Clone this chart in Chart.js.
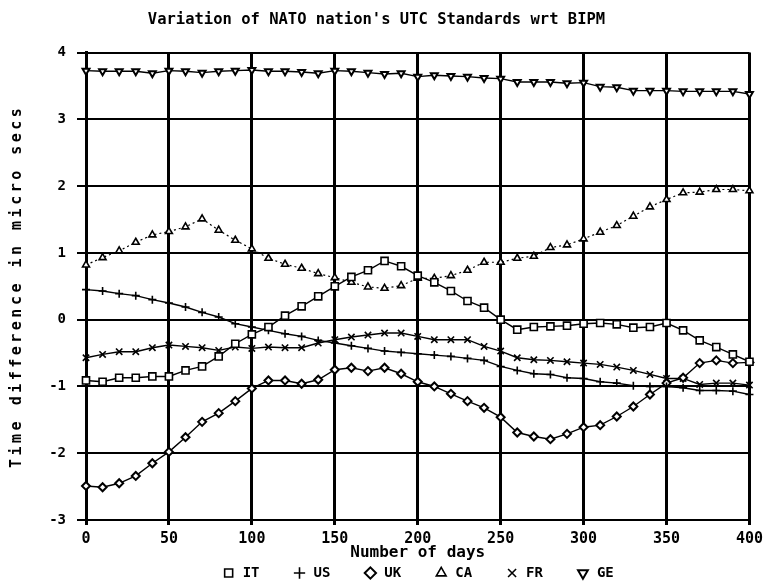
<!DOCTYPE html>
<html>
<head>
<meta charset="utf-8">
<title>Variation of NATO nation's UTC Standards wrt BIPM</title>
<script src="https://cdn.jsdelivr.net/npm/chart.js@4.4.0/dist/chart.umd.min.js"></script>
<style>
  html, body { margin: 0; padding: 0; background: #fff; overflow: hidden; }
  #chart { display: block; }
</style>
</head>
<body>
<canvas id="chart" width="768" height="582"></canvas>
<script>
// Days (x values of every point)
const days = [0, 10, 20, 30, 40, 50, 60, 70, 80, 90, 100, 110, 120, 130, 140, 150, 160, 170, 180, 190, 200,
  210, 220, 230, 240, 250, 260, 270, 280, 290, 300, 310, 320, 330, 340, 350, 360, 370, 380, 390, 400];

// Tick labels
const xTicks = [0, 50, 100, 150, 200, 250, 300, 350, 400];
const yTicks = [-3, -2, -1, 0, 1, 2, 3, 4];

// Series names (legend)
const seriesNames = ['IT', 'US', 'UK', 'CA', 'FR', 'GE'];

// Time difference in micro secs, one value per day above
const itValues = [-0.91, -0.93, -0.87, -0.87, -0.85, -0.85, -0.76, -0.70, -0.55, -0.36, -0.22, -0.11, 0.06, 0.20, 0.35,
  0.50, 0.64, 0.74, 0.88, 0.80, 0.66, 0.56, 0.43, 0.28, 0.18, 0.00, -0.15, -0.11, -0.10, -0.09, -0.06,
  -0.05, -0.07, -0.12, -0.11, -0.05, -0.16, -0.31, -0.41, -0.52, -0.63];
const usValues = [0.45, 0.43, 0.39, 0.36, 0.30, 0.25, 0.19, 0.11, 0.04, -0.06, -0.11, -0.16, -0.21, -0.25, -0.31,
  -0.35, -0.39, -0.43, -0.47, -0.49, -0.51, -0.53, -0.55, -0.58, -0.61, -0.70, -0.76, -0.81, -0.82, -0.87, -0.88,
  -0.93, -0.95, -0.99, -1.00, -1.00, -1.02, -1.06, -1.06, -1.07, -1.12];
const ukValues = [-2.49, -2.51, -2.45, -2.34, -2.15, -1.98, -1.76, -1.53, -1.40, -1.22, -1.03, -0.91, -0.91, -0.96, -0.90,
  -0.75, -0.72, -0.77, -0.72, -0.81, -0.93, -1.00, -1.11, -1.22, -1.32, -1.46, -1.69, -1.75, -1.79, -1.71, -1.61,
  -1.58, -1.45, -1.30, -1.12, -0.95, -0.87, -0.65, -0.61, -0.65, -0.64];
const caValues = [0.82, 0.93, 1.03, 1.16, 1.27, 1.32, 1.39, 1.51, 1.34, 1.19, 1.06, 0.92, 0.83, 0.77, 0.69,
  0.63, 0.56, 0.49, 0.47, 0.51, 0.62, 0.62, 0.66, 0.74, 0.86, 0.86, 0.92, 0.95, 1.08, 1.12, 1.21,
  1.31, 1.41, 1.55, 1.69, 1.80, 1.90, 1.91, 1.95, 1.95, 1.93];
const frValues = [-0.57, -0.52, -0.48, -0.48, -0.42, -0.38, -0.40, -0.42, -0.46, -0.41, -0.43, -0.41, -0.42, -0.42, -0.35,
  -0.30, -0.26, -0.23, -0.20, -0.20, -0.25, -0.30, -0.30, -0.30, -0.40, -0.47, -0.57, -0.60, -0.61, -0.63, -0.65,
  -0.67, -0.71, -0.76, -0.82, -0.88, -0.88, -0.97, -0.95, -0.95, -0.98];
const geValues = [3.73, 3.72, 3.72, 3.72, 3.69, 3.73, 3.72, 3.70, 3.72, 3.73, 3.74, 3.72, 3.72, 3.71, 3.69,
  3.73, 3.72, 3.70, 3.68, 3.69, 3.64, 3.66, 3.65, 3.64, 3.62, 3.61, 3.56, 3.56, 3.56, 3.54, 3.55,
  3.49, 3.48, 3.43, 3.43, 3.43, 3.42, 3.42, 3.42, 3.42, 3.38];

const FONT = "'DejaVu Sans Mono', monospace";

function toPoints(values) {
  return days.map((d, i) => ({ x: d, y: values[i] }));
}

function series(name, values, extra) {
  return Object.assign({
    label: name,
    data: toPoints(values),
    borderColor: '#000',
    borderWidth: 1.4,
    pointBackgroundColor: '#fff',
    pointBorderColor: '#000',
    pointBorderWidth: 1.6,
    pointRadius: 4,
    tension: 0,
    clip: false
  }, extra);
}

// Small layout tweaks to match the old printout:
// - spaced letters on the y axis title
// - x tick labels / title may hang over the (transparent) legend box
const printLook = {
  id: 'printLook',
  afterLayout(chart) {
    const x = chart.scales.x;
    x.bottom = x.top + 42;

    const y = chart.scales.y;
    if (y._spacedTitle) return;
    const drawTitle = y.drawTitle;
    y.drawTitle = function () {
      this.ctx.save();
      this.ctx.letterSpacing = '3.5px';
      drawTitle.call(this);
      this.ctx.restore();
    };
    y._spacedTitle = true;
  }
};

new Chart(document.getElementById('chart'), {
  type: 'line',
  data: {
    datasets: [
      series(seriesNames[0], itValues, { pointStyle: 'rect', pointRadius: 5 }),
      series(seriesNames[1], usValues, { pointStyle: 'cross', pointRadius: 4 }),
      series(seriesNames[2], ukValues, { pointStyle: 'rectRot', pointRadius: 4, pointBorderWidth: 2 }),
      series(seriesNames[3], caValues, { pointStyle: 'triangle', pointRadius: 4, borderWidth: 1.2, borderDash: [2, 3] }),
      series(seriesNames[4], frValues, { pointStyle: 'crossRot', pointRadius: 4.5 }),
      series(seriesNames[5], geValues, { pointStyle: 'triangle', pointRotation: 180, pointRadius: 4, pointBorderWidth: 2 })
    ]
  },
  options: {
    responsive: false,
    animation: false,
    devicePixelRatio: 1,
    layout: { padding: { top: 0, left: 0, right: 15, bottom: -8 } },
    plugins: {
      title: {
        display: true,
        text: "Variation of NATO nation's UTC Standards wrt BIPM",
        color: '#000',
        font: { family: FONT, size: 15.5, weight: 'bold' },
        padding: { top: 11, bottom: 23 }
      },
      legend: {
        position: 'bottom',
        fullSize: false,
        labels: {
          usePointStyle: true,
          boxWidth: 15,
          boxHeight: 8,
          padding: 33,
          color: '#000',
          font: { family: FONT, size: 14, weight: 'bold' }
        }
      },
      tooltip: { enabled: false }
    },
    scales: {
      x: {
        type: 'linear',
        min: 0,
        max: 400,
        afterBuildTicks: s => { s.ticks = xTicks.map(v => ({ value: v })); },
        afterFit: s => { s.height = 13; },
        grid: { color: '#000', lineWidth: 3, tickLength: 5, tickColor: '#000' },
        border: { color: '#000', width: 2 },
        ticks: {
          color: '#000',
          padding: 5,
          maxRotation: 0,
          font: { family: FONT, size: 15, weight: 'bold' }
        },
        title: {
          display: true,
          text: 'Number of days',
          color: '#000',
          font: { family: FONT, size: 16, weight: 'bold' },
          padding: { top: 0, bottom: 0 }
        }
      },
      y: {
        type: 'linear',
        min: -3,
        max: 4,
        afterBuildTicks: s => { s.ticks = yTicks.map(v => ({ value: v })); },
        afterFit: s => { s.width = 86; },
        grid: { color: '#000', lineWidth: 2, tickLength: 9, tickColor: '#000' },
        border: { color: '#000', width: 3 },
        ticks: {
          color: '#000',
          padding: 11,
          font: { family: FONT, size: 14, weight: 'bold' }
        },
        title: {
          display: true,
          text: 'Time difference in micro secs',
          color: '#000',
          font: { family: FONT, size: 15, weight: 'bold' },
          padding: { top: 8, bottom: 0 }
        }
      }
    }
  },
  plugins: [printLook]
});
</script>
</body>
</html>
